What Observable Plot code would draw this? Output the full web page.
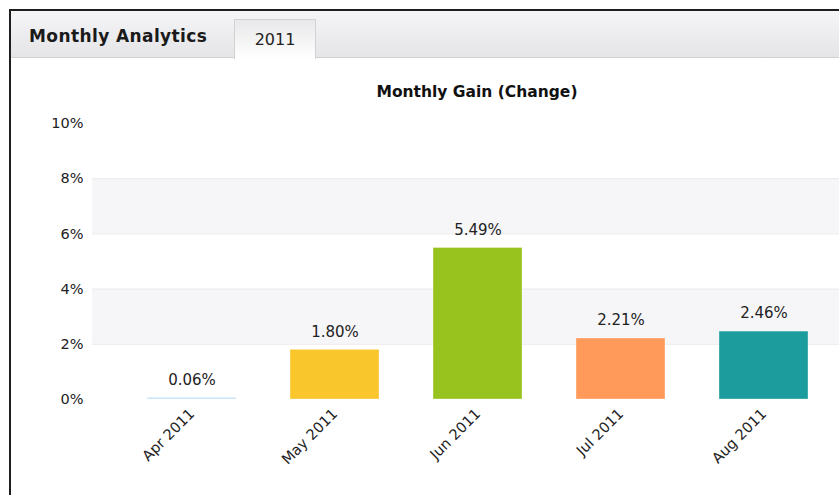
<!DOCTYPE html>
<html>
<head>
<meta charset="utf-8">
<script src="https://cdn.jsdelivr.net/npm/d3@7"></script>
<script src="https://cdn.jsdelivr.net/npm/@observablehq/plot@0.6"></script>
<style>
  html, body { margin: 0; padding: 0; background: #fff; overflow: hidden; width: 839px; height: 495px; }
  body { position: relative; font-family: "DejaVu Sans", Verdana, sans-serif; color: #222; }
  .frame { position: absolute; left: 9px; top: 9px; width: 900px; height: 600px;
           border-left: 2px solid #1e1e1e; border-top: 2px solid #1e1e1e; }
  .tabbar { position: absolute; left: 0; top: 0; right: 0; height: 46px;
            background: linear-gradient(#f5f5f7, #e5e5e7); border-bottom: 1px solid #d0d0d2; }
  .tabtitle { position: absolute; left: 18px; top: 14px; font-weight: bold; font-size: 17px;
              line-height: 22px; color: #1a1a1a; letter-spacing: 0.4px; }
  .tab { position: absolute; left: 223px; top: 8px; width: 80px; height: 39px;
         border: 1px solid #d2d2d4; border-bottom: none;
         background: linear-gradient(#e8e8ea, #ffffff);
         text-align: center; font-size: 16px; line-height: 40px; color: #222; }
  .title { position: absolute; left: 92px; width: 770px; top: 81px; text-align: center;
           font-weight: bold; font-size: 15.5px; line-height: 22px; color: #111; }
  #chart { position: absolute; left: 0; top: 105px; width: 870px; }
  #chart svg { max-width: none !important; }
</style>
</head>
<body>
<div class="frame">
  <div class="tabbar"></div>
  <div class="tabtitle">Monthly Analytics</div>
  <div class="tab">2011</div>
</div>
<div class="title">Monthly Gain (Change)</div>
<div id="chart"></div>
<script>
const months = ["Apr 2011", "May 2011", "Jun 2011", "Jul 2011", "Aug 2011"];
const gains = [0.06, 1.80, 5.49, 2.21, 2.46];
const barColors = ["#c0e0f8", "#f9c62c", "#98c21e", "#ff9a5a", "#1c9c9c"];
const yTicks = [0, 2, 4, 6, 8, 10];
const bandLows = [2, 6];
const bandHighs = [4, 8];
const gridLines = [2, 4, 6, 8];

const data = months.map((m, i) => ({month: m, gain: gains[i], color: barColors[i]}));
const bands = bandLows.map((lo, i) => ({lo, hi: bandHighs[i]}));

const chart = Plot.plot({
  width: 870,
  height: 390,
  marginLeft: 92,
  marginRight: 8,
  marginTop: 18,
  marginBottom: 96,
  style: {fontFamily: "'DejaVu Sans', Verdana, sans-serif", fontSize: "14.5px", color: "#222", background: "transparent", overflow: "visible", maxWidth: "none"},
  x: {domain: months, paddingInner: 0.378, paddingOuter: 0.381, label: null, tickSize: 0, tickPadding: 12, tickRotate: -45},
  y: {domain: [0, 10], ticks: yTicks, tickFormat: d => d + "%", label: null, tickSize: 0, tickPadding: 9},
  color: {type: "identity"},
  marks: [
    Plot.rect(bands, {y1: "lo", y2: "hi", fill: "#f6f6f8"}),
    Plot.ruleY(gridLines, {stroke: "#ebebef"}),
    Plot.barY(data, {x: "month", y: "gain", fill: "color", stroke: "white", strokeOpacity: 0.35, strokeWidth: 1}),
    Plot.text(data, {x: "month", y: "gain", text: d => d.gain.toFixed(2) + "%", dy: -18, fontSize: 15, fill: "#222"})
  ]
});
document.getElementById("chart").appendChild(chart);
</script>
</body>
</html>
